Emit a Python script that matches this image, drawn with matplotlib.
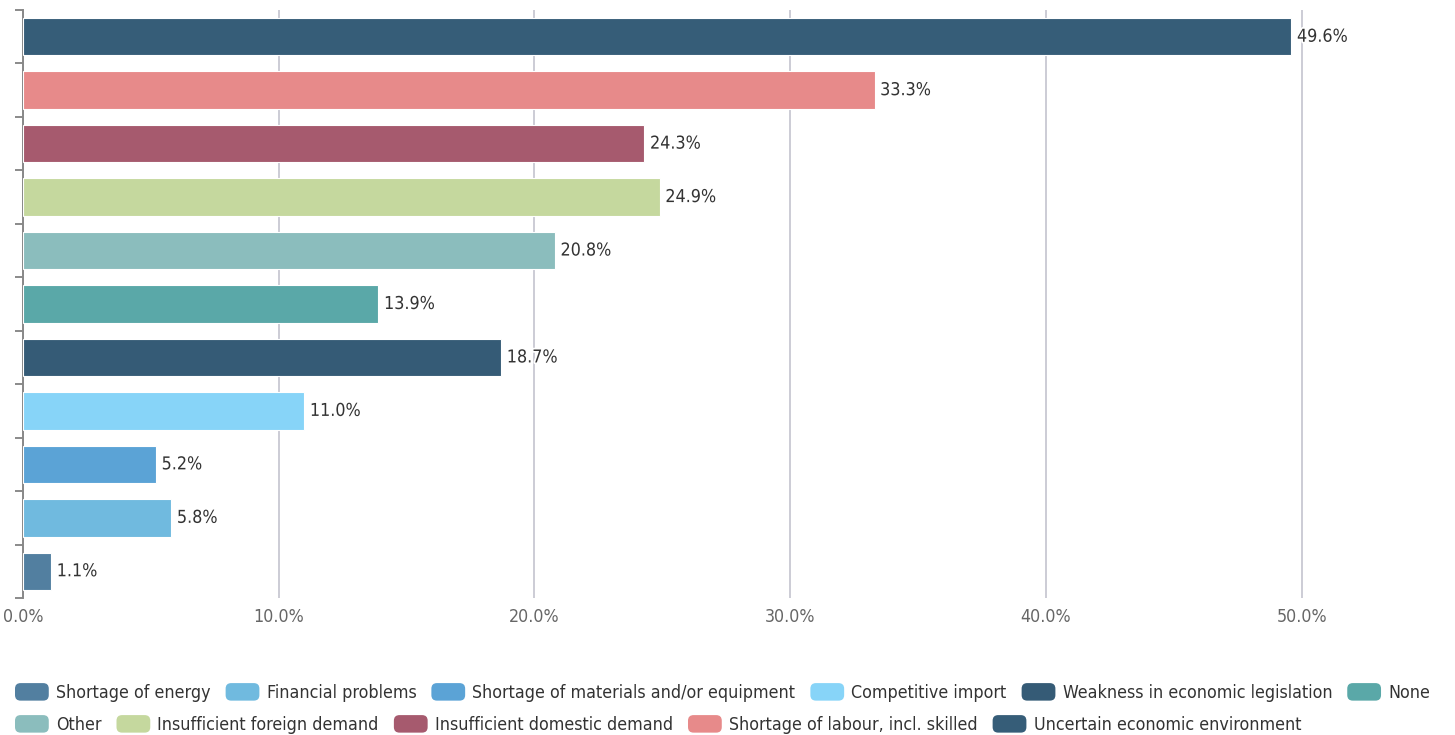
import matplotlib
matplotlib.use("Agg")
import matplotlib.pyplot as plt
import matplotlib.patheffects as pe
from matplotlib.patches import FancyBboxPatch
from matplotlib.legend_handler import HandlerPatch
from matplotlib.ticker import FuncFormatter, FixedLocator

plt.rcParams['font.family'] = ['DejaVu Sans']
plt.rcParams['font.stretch'] = 'condensed'

# Data (bottom to top)
categories = [
    "Shortage of energy",
    "Financial problems",
    "Shortage of materials and/or equipment",
    "Competitive import",
    "Weakness in economic legislation",
    "None",
    "Other",
    "Insufficient foreign demand",
    "Insufficient domestic demand",
    "Shortage of labour, incl. skilled",
    "Uncertain economic environment",
]
values = [1.1, 5.8, 5.2, 11.0, 18.7, 13.9, 20.8, 24.9, 24.3, 33.3, 49.6]
colors = ["#527fa0", "#70badf", "#5ba3d6", "#87d4f8", "#355b76", "#5aa8a8",
          "#8bbdbd", "#c5d89e", "#a65a6e", "#e78a8a", "#365d78"]
xticks = [0, 10, 20, 30, 40, 50]

FS = 12.8

fig = plt.figure(figsize=(14.55, 7.35), dpi=100)
W, H = 1455, 735
ax = fig.add_axes([23 / W, 1 - 598 / H, (W - 23) / W, (598 - 10) / H])

ypos = list(range(len(categories)))
bars = ax.barh(ypos, values, height=0.7, color=colors, edgecolor="#ffffff",
               linewidth=0.8, zorder=3)
for y, v in zip(ypos, values):
    ax.text(v + 0.22, y, f"{v:.1f}%", va="center", ha="left", fontsize=FS,
            color="#333333", zorder=4,
            path_effects=[pe.withStroke(linewidth=2.5, foreground="white")])

ax.set_xlim(0, 56.0)
ax.set_ylim(-0.5, len(categories) - 0.5)
ax.set_xticks(xticks)
ax.xaxis.set_major_formatter(FuncFormatter(lambda x, p: f"{x:.1f}%"))
ax.tick_params(axis="x", length=0, labelsize=FS, labelcolor="#666666", pad=7)
ax.grid(axis="x", color="#c8c8d2", linewidth=1.3, zorder=0)
ax.set_yticks([])
ax.yaxis.set_minor_locator(FixedLocator([i - 0.5 for i in range(len(categories) + 1)]))
ax.tick_params(axis="y", which="minor", length=6, width=1.2, color="#777777")
for s in ["top", "right", "bottom"]:
    ax.spines[s].set_visible(False)
ax.spines["left"].set_color("#888888")
ax.spines["left"].set_linewidth(1.4)
ax.set_axisbelow(True)


class HandlerRound(HandlerPatch):
    def create_artists(self, legend, orig_handle, xdescent, ydescent, width,
                       height, fontsize, trans):
        p = FancyBboxPatch((-xdescent, -ydescent - 1), width, height + 2,
                           boxstyle="round,pad=0,rounding_size=4",
                           facecolor=orig_handle.get_facecolor(),
                           edgecolor="none", transform=trans)
        return [p]


handles = [plt.Rectangle((0, 0), 1, 1, facecolor=c) for c in colors]
hm = {h: HandlerRound() for h in handles}
row1 = list(range(0, 6))
row2 = list(range(6, 11))
for row, ytop in [(row1, 693), (row2, 725)]:
    leg = fig.legend([handles[i] for i in row], [categories[i] for i in row],
                     loc="center left", bbox_to_anchor=(15 / W, 1 - ytop / H),
                     ncol=len(row), frameon=False, fontsize=FS,
                     handlelength=1.9, handleheight=0.9, handletextpad=0.4,
                     columnspacing=0.85, borderpad=0, borderaxespad=0,
                     handler_map=hm, labelcolor="#333333")

fig.savefig("out.png", dpi=100)
